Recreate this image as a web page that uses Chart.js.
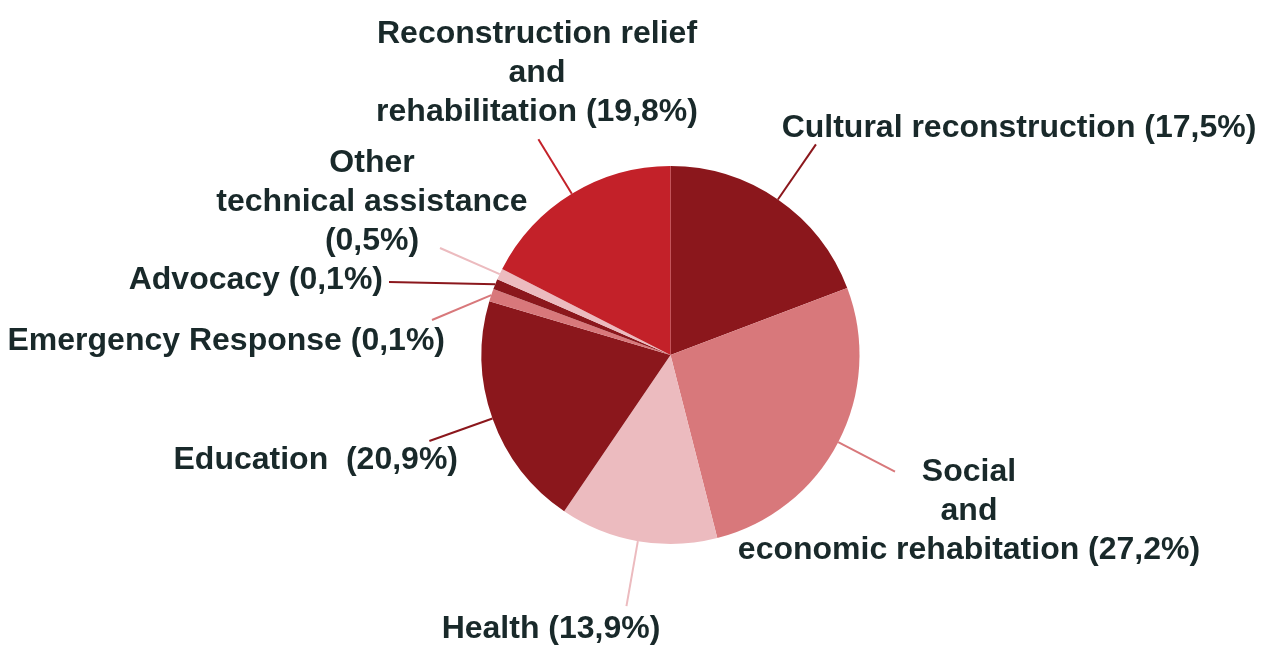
<!DOCTYPE html>
<html>
<head>
<meta charset="utf-8">
<script src="https://cdn.jsdelivr.net/npm/chart.js@4"></script>
<style>
  html, body { margin: 0; padding: 0; background: #ffffff; }
  #wrap { width: 1267px; height: 645px; position: relative; }
</style>
</head>
<body>
<div id="wrap"><canvas id="pieChart"></canvas></div>
<script>
// slices, clockwise from 12 o'clock
const categories = [
  "Cultural reconstruction",
  "Social and economic rehabitation",
  "Health",
  "Education",
  "Emergency Response",
  "Advocacy",
  "Other technical assistance",
  "Reconstruction relief and rehabilitation"
];

// slice sizes as drawn in the picture
const shares = [19.25, 26.8, 13.5, 20.1, 1.08, 0.88, 0.96, 17.5];

// text printed on the labels
const labelLines = [
  ["Cultural reconstruction (17,5%)"],
  ["Social", "and", "economic rehabitation (27,2%)"],
  ["Health (13,9%)"],
  ["Education  (20,9%)"],
  ["Emergency Response (0,1%)"],
  ["Advocacy (0,1%)"],
  ["Other", "technical assistance", "(0,5%)"],
  ["Reconstruction relief", "and", "rehabilitation (19,8%)"]
];

const sliceColors = ["#8B171C", "#D8787B", "#ECBBBF", "#8B171C", "#D8787B", "#8B171C", "#ECBBBF", "#C32129"];

// where each label sits (x, baseline of first line) and how its leader runs
const labelLayout = [
  { x: 1019, y: 137, align: "center", len: 67 },
  { x: 969, y: 481, align: "center", len: 64 },
  { x: 551, y: 638, align: "center", len: 66 },
  { x: 458, y: 469, align: "right", len: 67 },
  { x: 445, y: 350, align: "right", to: [432, 320] },
  { x: 383, y: 289, align: "right", to: [389, 282] },
  { x: 372, y: 172, align: "center", to: [440, 248] },
  { x: 537, y: 43, align: "center", len: 64 }
];

const LINE_HEIGHT = 39;

const labelPlugin = {
  id: "pieLabels",
  afterDraw(chart) {
    const ctx = chart.ctx;
    const arcs = chart.getDatasetMeta(0).data;
    ctx.save();
    arcs.forEach((arc, i) => {
      const p = arc.getProps(["x", "y", "startAngle", "endAngle", "outerRadius"], true);
      const mid = (p.startAngle + p.endAngle) / 2;
      const sx = p.x + Math.cos(mid) * p.outerRadius;
      const sy = p.y + Math.sin(mid) * p.outerRadius;
      const lay = labelLayout[i];
      let ex, ey;
      if (lay.to) {
        ex = lay.to[0];
        ey = lay.to[1];
      } else {
        ex = p.x + Math.cos(mid) * (p.outerRadius + lay.len);
        ey = p.y + Math.sin(mid) * (p.outerRadius + lay.len);
      }
      ctx.strokeStyle = sliceColors[i];
      ctx.lineWidth = 2;
      ctx.beginPath();
      ctx.moveTo(sx, sy);
      ctx.lineTo(ex, ey);
      ctx.stroke();

      ctx.fillStyle = "#19292A";
      ctx.font = "bold 32px 'Liberation Sans', Arial, sans-serif";
      ctx.textAlign = lay.align;
      ctx.textBaseline = "alphabetic";
      labelLines[i].forEach((line, k) => {
        ctx.fillText(line, lay.x, lay.y + k * LINE_HEIGHT);
      });
    });
    ctx.restore();
  }
};

new Chart(document.getElementById("pieChart"), {
  type: "pie",
  data: {
    labels: categories,
    datasets: [{
      data: shares,
      backgroundColor: sliceColors,
      borderWidth: 0
    }]
  },
  options: {
    responsive: true,
    maintainAspectRatio: false,
    animation: false,
    layout: {
      padding: { left: 481.5, right: 407.5, top: 166, bottom: 101 }
    },
    plugins: {
      legend: { display: false },
      tooltip: { enabled: false }
    }
  },
  plugins: [labelPlugin]
});
</script>
</body>
</html>
